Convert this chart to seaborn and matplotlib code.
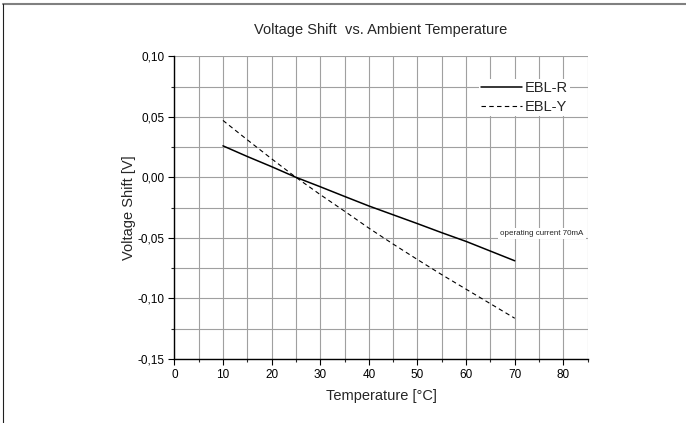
import numpy as np
import pandas as pd
import seaborn as sns
import matplotlib.pyplot as plt
from matplotlib.ticker import MultipleLocator, FuncFormatter
from matplotlib.lines import Line2D

# dane (przesuniecie napiecia vs temperatura)
temp = [10, 15, 20, 25, 30, 35, 40, 45, 50, 55, 60, 65, 70]
ebl_r = [0.026, 0.0172, 0.0088, 0.0, -0.0078, -0.0158, -0.0237, -0.031, -0.0383, -0.0458, -0.053, -0.061, -0.069]
ebl_y = [0.047, 0.031, 0.0153, 0.0, -0.0143, -0.028, -0.042, -0.0552, -0.068, -0.0805, -0.0925, -0.1045, -0.1165]
series_names = ['EBL-R', 'EBL-Y']

df = pd.DataFrame({
    'Temperature': temp * 2,
    'Shift': ebl_r + ebl_y,
    'Series': [series_names[0]] * len(temp) + [series_names[1]] * len(temp),
})

sns.set_style('white')
plt.rcParams['font.family'] = ['Liberation Sans', 'DejaVu Sans']

fig = plt.figure(figsize=(6.86, 4.23), dpi=100)
ax = fig.add_axes([0.2541, 0.1518, 0.6026, 0.7151])

sns.lineplot(data=df, x='Temperature', y='Shift', style='Series', color='black',
             dashes={'EBL-R': '', 'EBL-Y': (4, 3)}, ax=ax, legend=False)
ax.lines[0].set_linewidth(1.1)
ax.lines[1].set_linewidth(0.8)

ax.set_xlim(0, 85)
ax.set_ylim(-0.15, 0.10)
ax.xaxis.set_major_locator(MultipleLocator(10))
ax.xaxis.set_minor_locator(MultipleLocator(5))
ax.yaxis.set_major_locator(MultipleLocator(0.05))
ax.yaxis.set_minor_locator(MultipleLocator(0.025))
ax.yaxis.set_major_formatter(FuncFormatter(lambda v, p: f'{v:.2f}'.replace('.', ',')))

ax.grid(True, which='both', color='#a0a0a0', linewidth=0.8)
ax.set_axisbelow(True)
for s in ['top', 'right']:
    ax.spines[s].set_visible(False)
for s in ['left', 'bottom']:
    ax.spines[s].set_color('black')
    ax.spines[s].set_linewidth(1.0)
ax.tick_params(which='major', direction='out', length=4.5, width=0.8, labelsize=8.5, colors='black', pad=2.5,
               left=True, bottom=True)
ax.tick_params(which='minor', direction='out', length=2.2, width=0.8, left=True, bottom=True)

ax.set_xlabel('Temperature [°C]', fontsize=10.5, labelpad=6)
ax.set_ylabel('Voltage Shift [V]', fontsize=10.5, labelpad=1)
ax.set_title('Voltage Shift  vs. Ambient Temperature', fontsize=10.5, pad=16)

handles = [Line2D([], [], color='black', lw=1.1),
           Line2D([], [], color='black', lw=0.8, ls=(0, (4, 3)))]
leg = ax.legend(handles, series_names, loc='upper right', bbox_to_anchor=(0.975, 0.95),
                frameon=True, fontsize=10.5, handlelength=2.8, handletextpad=0.2,
                labelspacing=0.35, borderpad=0.15, fancybox=False)
leg.get_frame().set_facecolor('white')
leg.get_frame().set_edgecolor('none')
leg.get_frame().set_alpha(1)

ax.text(67, -0.0465, 'operating current 70mA', fontsize=5.8, va='center', ha='left',
        bbox=dict(facecolor='white', edgecolor='none', pad=1.5))

# ramka rysunku
fig.add_artist(Line2D([0.0045, 1.0], [0.9905, 0.9905], transform=fig.transFigure, color='#808080', lw=1.5))
fig.add_artist(Line2D([0.0045, 0.0045], [0.0, 0.9905], transform=fig.transFigure, color='#202020', lw=0.8))

fig.savefig('out.png', dpi=100)
